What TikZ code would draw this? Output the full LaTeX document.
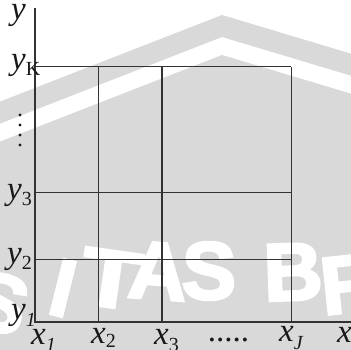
\documentclass[tikz,border=0pt]{standalone}
\usepackage{fontspec}
\setmainfont{Liberation Serif}
\newfontfamily\wmfont[FakeBold=3]{Liberation Sans Bold}
\definecolor{wmgrey}{RGB}{217,217,217}
\definecolor{ink}{RGB}{50,50,50}
\newcommand\subl[2]{\raisebox{-#1pt}{\fontsize{20}{20}\selectfont #2}}
\tikzset{
  lab/.style={font=\fontsize{33}{33}\selectfont\itshape, inner sep=0pt, anchor=base west, text=black!90},
  wmletter/.style={font=\wmfont\fontsize{82}{82}\selectfont, text=white, inner sep=0pt},
  axisline/.style={draw=ink, line width=1.2pt},
  gridline/.style={draw=ink, line width=1pt},
}
\begin{document}
\begin{tikzpicture}[x=1pt,y=-1pt]
\useasboundingbox (0,0) rectangle (351,350);
% watermark
\fill[white] (0,0) rectangle (351,350);
\fill[wmgrey] (0,141.6) -- (222,55) -- (351,93.7) -- (351,350) -- (0,350) -- cycle;
\fill[wmgrey] (0,101.6) -- (222,15) -- (351,53.7) -- (351,75.7) -- (222,37) -- (0,123.6) -- cycle;
\begin{scope}[shift={(0,303)}]\node[wmletter, rotate=-16] (w1) at (0,0) {S};\end{scope}
\begin{scope}[shift={(63,288)}]\node[wmletter, rotate=-14] (w2) at (0,0) {I};\end{scope}
\begin{scope}[shift={(111,279)}]\node[wmletter, rotate=-8, xscale=1.2] (w3) at (0,0) {T};\end{scope}
\begin{scope}[shift={(158,271)}]\node[wmletter, rotate=-4] (w4) at (0,0) {A};\end{scope}
\begin{scope}[shift={(209,271)}]\node[wmletter, rotate=-1] (w5) at (0,0) {S};\end{scope}
\begin{scope}[shift={(293,272)}]\node[wmletter, rotate=2] (w6) at (0,0) {B};\end{scope}
\begin{scope}[shift={(350,284)}]\node[wmletter, rotate=6] (w7) at (0,0) {R};\end{scope}
% coordinates
\coordinate (O) at (35,322);
\coordinate (Ytop) at (35,8);
\coordinate (Xend) at (351,322);
% grid
\draw[gridline] (35,66.7) -- (291,66.7);
\draw[gridline] (35,192.5) -- (291,192.5);
\draw[gridline] (35,259) -- (291,259);
\draw[gridline] (98,322) -- (98,66.7);
\draw[gridline, line width=1.5pt] (162,322) -- (162,66.7);
\draw[gridline] (291,322) -- (291,66.7);
% axes
\draw[axisline] (Ytop) -- (O) -- (Xend);
% vertical dots
\foreach \yy in {115,125,135,145}
  \fill[black!90] (20,\yy) circle (1.6pt);
% labels
\node[lab] (ly) at (11,20) {y};
\node[lab] (lyK) at (11,70) {y\subl{6}{\upshape K}};
\node[lab] (ly3) at (7,200) {y\subl{6}{\upshape 3}};
\node[lab] (ly2) at (7,263) {y\subl{6}{\upshape 2}};
\node[lab] (ly1) at (11,319) {y\subl{7}{1}};
\node[lab] (lx1) at (31,344) {x\subl{7}{1}};
\node[lab] (lx2) at (91,343) {x\subl{4}{\upshape 2}};
\node[lab] (lx3) at (154,344) {x\subl{7}{\upshape 3}};
\node[lab, anchor=base, font=\fontsize{33}{33}\selectfont] (ldots) at (228.5,341) {.....};
\node[lab] (lxJ) at (279,341) {x\subl{8}{J}};
\node[lab] (lx) at (337,342) {x};
\end{tikzpicture}
\end{document}
